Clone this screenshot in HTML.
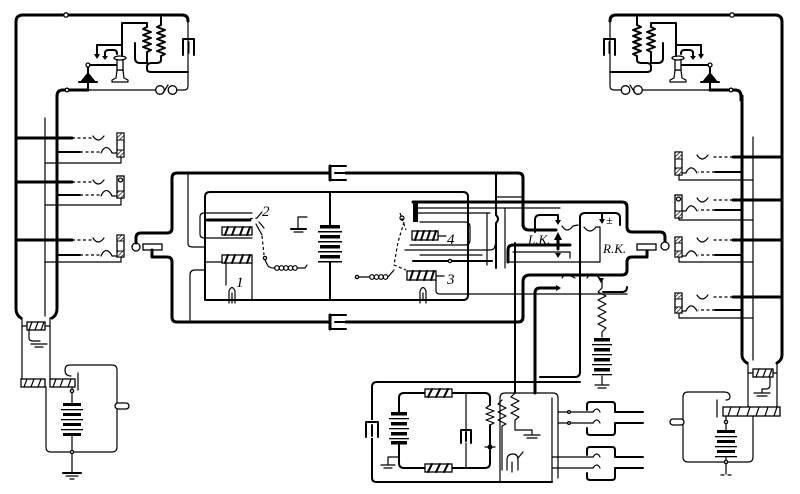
<!DOCTYPE html>
<html><head><meta charset="utf-8"><style>
html,body{margin:0;padding:0;background:#fff}
svg{display:block}
.k{stroke:#000;stroke-width:3;fill:none;stroke-linecap:round;stroke-linejoin:round}
.m{stroke:#000;stroke-width:2;fill:none;stroke-linecap:round;stroke-linejoin:round}
.t{stroke:#000;stroke-width:1.2;fill:none;stroke-linecap:round;stroke-linejoin:round}
.d{stroke:#000;stroke-width:1.2;fill:none;stroke-dasharray:3 2.5}
.w{fill:#fff;stroke:#000;stroke-width:1.3}
.b{fill:#000;stroke:none}
text{font-family:"Liberation Serif",serif;font-style:italic;fill:#000}
</style></head><body>
<svg width="800" height="494" viewBox="0 0 800 494" xmlns="http://www.w3.org/2000/svg">
<defs>
<pattern id="h" width="3" height="3" patternUnits="userSpaceOnUse" patternTransform="rotate(45)"><rect width="3" height="3" fill="#fff"/><line x1="0" y1="0" x2="0" y2="3" stroke="#000" stroke-width="1.4"/></pattern>
<g id="tel">
<path class="k" d="M16,100 L16,22 Q16,15 23,15 L182,15 Q188,15 188,21"/>
<path class="t" d="M188,21 L188,86 Q188,90 184,90 L177,90"/>
<circle cx="66" cy="15" r="2.2" class="w"/>
<path class="t" d="M155.7,90 L88,90"/>
<circle cx="160" cy="90" r="4.3" class="w"/>
<circle cx="172.5" cy="90" r="4.3" class="w"/>
<path class="t" d="M163,93 L168,85"/>
<path class="k" d="M88,90 L63,90 Q57,90 57,96 L57,100"/>
<circle cx="67" cy="90" r="1.8" class="w"/>
<path class="m" d="M88,66 L88,90"/>
<polygon points="80,82 96,82 88,72" class="b"/>
<path class="m" d="M79,82 L97,82"/>
<circle cx="88" cy="65" r="2" class="w"/>
<path class="m" d="M90,65 L118,65"/>
<path class="t" d="M117,70 L116,78 L112,80 L112,82 L128,82 L128,80 L124,78 L123,70 Z" fill="#fff"/>
<rect x="117" y="58" width="6" height="12" class="w"/>
<ellipse cx="120" cy="58" rx="6" ry="2" class="w"/>
<path class="m" d="M122,56 L122,23 L147,23 L147,27"/>
<path class="m" d="M97,45 L122,45"/>
<path class="m" d="M97,45 L97,55"/><polygon points="94,54 100,54 97,59" class="b"/>
<path class="m" d="M105,57 L105,53 Q105,50 109,50 L114,50 Q117,50 117,54"/><polygon points="102,56 108,56 105,60" class="b"/>
<polyline class="m" points="147,27 143,29 151,32 143,35 151,38 143,41 151,44 143,47 151,50 147,52 147,55"/>
<path class="m" d="M161,15 L161,25"/>
<polyline class="m" points="161,25 157,27 165,30 157,33 165,36 157,39 165,42 157,45 165,48 157,51 165,54 161,56 161,57"/>
<path class="m" d="M135,43 L135,58 Q135,63 140,63 L147,63 L147,55"/>
<path class="m" d="M161,57 L161,60 Q161,63 156,63 L151,63 Q147,63 147,67 L147,69 Q147,72 151,72 L188,72"/>
<path class="m" d="M183,55 L183,39 L194,39 L194,55 M188.5,42 L188.5,53"/>
</g>
</defs>

<!-- telephones -->
<use href="#tel"/>
<use href="#tel" transform="translate(798,0) scale(-1,1)"/>

<!-- LEFT STATION verticals -->
<path class="k" d="M16,100 L16,309 Q16,315 21,318"/>
<path class="k" d="M57,100 L57,309 Q57,315 52,318"/>
<path class="t" d="M45,118 L45,316"/>
<path class="t" d="M22,318 L22,380 M50,318 L50,380"/>
<rect x="27" y="322" width="18" height="8" class="w"/>
<path class="t" d="M32,322 L29,330 M38,322 L35,330 M44,322 L41,330"/>
<path class="t" d="M22,326 L27,326 M45,326 L50,326"/>
<path class="t" d="M29,330 L29,338 Q29,341 33,341 L40,341"/>
<path class="t" d="M31,344 L47,344 M35,347 L43,347"/>
<!-- lower coils -->
<rect x="21" y="379" width="24" height="8" class="w"/>
<path class="t" d="M27,379 L24,387 M34,379 L31,387 M41,379 L38,387"/>
<rect x="50" y="379" width="25" height="8" class="w"/>
<path class="t" d="M56,379 L53,387 M63,379 L60,387 M71,379 L68,387"/>
<path class="t" d="M78,373 L78,390"/>
<path class="t" d="M46,387 L46,447 Q46,452 51,452 L112,452 Q117,452 117,447 L117,370 Q117,365 112,365 L70,365 Q65,365 65,370 Q65,376 71,376"/>
<path class="t" d="M72,387 L72,403"/>
<circle cx="72" cy="391" r="1.6" class="w"/>
<g class="b">
<rect x="63" y="403" width="18" height="3"/><rect x="61" y="409" width="22" height="1.3"/>
<rect x="63" y="413" width="18" height="3"/><rect x="61" y="419" width="22" height="1.3"/>
<rect x="63" y="423" width="18" height="3"/><rect x="61" y="429" width="22" height="1.3"/>
<rect x="63" y="433" width="18" height="3"/>
</g>
<path class="t" d="M72,436 L72,472"/>
<circle cx="72" cy="452" r="1.6" class="w"/>
<path class="m" d="M63,473 L81,473"/><path class="t" d="M66,476 L78,476 M70,479 L74,479"/>
<rect x="115" y="403" width="14" height="6" rx="3" class="w"/>

<!-- LEFT JACKS -->
<g>
<path class="k" d="M16,138 L72,138"/><path class="d" d="M72,138 L92,138"/>
<path class="t" d="M93,136 Q98,144 104,136"/>
<path class="m" d="M57,152 L80,152"/><path class="d" d="M80,152 L100,152"/>
<path class="t" d="M101,153 Q104,146 108,148 Q111,150 112,153 L117,153"/>
<path class="t" d="M45,163 L121,163 L121,157"/>
<rect x="117" y="133" width="7" height="24" class="w"/>
<rect x="117" y="133" width="7" height="7" fill="url(#h)" stroke="#000" stroke-width="1"/>
<rect x="117" y="150" width="7" height="7" fill="url(#h)" stroke="#000" stroke-width="1"/>

<path class="k" d="M16,182 L72,182"/><path class="d" d="M72,182 L92,182"/>
<path class="t" d="M93,180 Q98,188 104,180"/>
<path class="m" d="M57,195 L80,195"/><path class="d" d="M80,195 L100,195"/>
<path class="t" d="M101,196 Q104,189 108,191 Q111,193 112,196 L117,196"/>
<path class="t" d="M45,205 L121,205 L121,198"/>
<rect x="117" y="176" width="7" height="22" class="w"/>
<circle cx="120.5" cy="180" r="2" class="w"/>
<rect x="117" y="191" width="7" height="7" fill="url(#h)" stroke="#000" stroke-width="1"/>

<path class="k" d="M16,240 L72,240"/><path class="d" d="M72,240 L92,240"/>
<path class="t" d="M93,238 Q98,246 104,238"/>
<path class="m" d="M57,255 L80,255"/><path class="d" d="M80,255 L100,255"/>
<path class="t" d="M101,256 Q104,249 108,251 Q111,253 112,256 L117,256"/>
<path class="t" d="M45,262 L121,262 L121,257"/>
<rect x="117" y="235" width="7" height="22" class="w"/>
<rect x="117" y="235" width="7" height="6" fill="url(#h)" stroke="#000" stroke-width="1"/>
<rect x="117" y="251" width="7" height="6" fill="url(#h)" stroke="#000" stroke-width="1"/>
</g>

<!-- RIGHT STATION verticals -->
<path class="k" d="M742,96 L742,355 Q742,360 747,363"/>
<path class="t" d="M753,137 L753,360"/>
<path class="k" d="M782,100 L782,355 Q782,360 777,363"/>
<path class="t" d="M748,363 L748,408 M777,363 L777,408"/>
<rect x="753" y="369" width="20" height="8" class="w"/>
<path class="t" d="M759,369 L756,377 M766,369 L763,377 M772,369 L769,377"/>
<path class="t" d="M748,373 L753,373 M773,373 L777,373"/>
<path class="t" d="M770,377 L770,385 Q770,389 766,389 L762,389 L762,392"/>
<path class="t" d="M754,393 L770,393 M757,396 L767,396"/>
<rect x="723" y="407" width="57" height="9" class="w"/>
<path class="t" d="M731,407 L728,416 M740,407 L737,416 M750,407 L747,416 M759,407 L756,416 M768,407 L765,416 M777,407 L774,416"/>
<path class="t" d="M717,400 L717,417"/>
<path class="t" d="M753,416 L753,457 Q753,462 748,462 L688,462 Q683,462 683,457 L683,397 Q683,392 688,392 L724,392 Q730,392 730,397 Q730,400 726,400"/>
<path class="t" d="M726,416 L726,430"/>
<circle cx="726" cy="422" r="1.6" class="w"/>
<g class="b">
<rect x="717" y="430" width="18" height="3"/><rect x="715" y="436" width="22" height="1.3"/>
<rect x="717" y="440" width="18" height="3"/><rect x="715" y="446" width="22" height="1.3"/>
<rect x="717" y="450" width="18" height="3"/><rect x="715" y="456" width="22" height="1.3"/>
</g>
<path class="t" d="M726,457 L726,474"/>
<circle cx="726" cy="462" r="1.6" class="w"/>
<path class="t" d="M721,475 L724,475 M728,475 L731,475"/>
<rect x="670" y="419" width="14" height="6" rx="3" class="w"/>

<!-- RIGHT JACKS -->
<g>
<path class="k" d="M782,157 L733,157"/><path class="d" d="M733,157 L712,157"/>
<path class="t" d="M697,155 Q702,163 708,155"/>
<path class="m" d="M742,172 L715,172"/><path class="d" d="M715,172 L698,172"/>
<path class="t" d="M697,173 Q694,167 690,168 Q687,170 686,173 L682,173"/>
<path class="t" d="M753,180 L679,180 L679,175"/>
<rect x="675" y="152" width="7" height="23" class="w"/>
<rect x="675" y="152" width="7" height="7" fill="url(#h)" stroke="#000" stroke-width="1"/>
<rect x="675" y="168" width="7" height="7" fill="url(#h)" stroke="#000" stroke-width="1"/>

<path class="k" d="M782,200 L733,200"/><path class="d" d="M733,200 L712,200"/>
<path class="t" d="M697,198 Q702,206 708,198"/>
<path class="m" d="M742,210 L715,210"/><path class="d" d="M715,210 L698,210"/>
<path class="t" d="M697,211 Q694,205 690,206 Q687,208 686,211 L682,211"/>
<path class="t" d="M753,220 L679,220 L679,218"/>
<rect x="675" y="195" width="7" height="23" class="w"/>
<circle cx="678.5" cy="199" r="2" class="w"/>
<rect x="675" y="211" width="7" height="7" fill="url(#h)" stroke="#000" stroke-width="1"/>

<path class="k" d="M782,240 L733,240"/><path class="d" d="M733,240 L712,240"/>
<path class="t" d="M697,238 Q702,246 708,238"/>
<path class="m" d="M742,255 L715,255"/><path class="d" d="M715,255 L698,255"/>
<path class="t" d="M697,256 Q694,250 690,251 Q687,253 686,256 L682,256"/>
<path class="t" d="M753,262 L679,262 L679,257"/>
<rect x="675" y="237" width="7" height="20" class="w"/>
<rect x="675" y="237" width="7" height="6" fill="url(#h)" stroke="#000" stroke-width="1"/>
<rect x="675" y="251" width="7" height="6" fill="url(#h)" stroke="#000" stroke-width="1"/>

<path class="k" d="M782,297 L733,297"/><path class="d" d="M733,297 L712,297"/>
<path class="t" d="M697,295 Q702,303 708,295"/>
<path class="m" d="M742,310 L715,310"/><path class="d" d="M715,310 L698,310"/>
<path class="t" d="M697,311 Q694,305 690,306 Q687,308 686,311 L682,311"/>
<path class="t" d="M753,318 L679,318 L679,313"/>
<rect x="675" y="293" width="7" height="20" class="w"/>
<rect x="675" y="293" width="7" height="6" fill="url(#h)" stroke="#000" stroke-width="1"/>
<rect x="675" y="307" width="7" height="6" fill="url(#h)" stroke="#000" stroke-width="1"/>
</g>

<!-- CENTRAL OUTER -->
<circle cx="136" cy="247" r="4" class="w"/>
<path class="k" d="M136,243 L136,238 Q136,233 141,233 L167,233 Q172,233 172,228 L172,178 Q172,173 177,173 L330,173"/>
<path class="k" d="M346,173 L518,173 Q523,173 523,178 L523,224 Q523,230 529,230 L556,230"/>
<path class="k" d="M330,166 L330,180"/><path class="m" d="M330,166 L346,166 M330,180 L346,180 M335,173 L347,173"/>
<rect x="143" y="244" width="19" height="6" class="w"/>
<path class="k" d="M152,250 L152,257 L167,257 Q172,257 172,262 L172,317 Q172,322 177,322 L330,322"/>
<path class="k" d="M346,322 L518,322 Q523,322 523,317 L523,282 Q523,275 530,275 L622,275 Q627,275 627,270 L627,262 Q627,257 632,257 L647,257 L647,250"/>
<path class="k" d="M330,315 L330,329"/><path class="m" d="M330,315 L346,315 M330,329 L346,329 M335,322 L347,322"/>
<path class="k" d="M413,202 L622,202 Q627,202 627,207 L627,227 Q627,232 632,232 L660,232 Q665,232 665,237 L665,242"/>
<rect x="637" y="244" width="19" height="6" class="w"/>
<circle cx="665" cy="246" r="4" class="w"/>

<!-- inner thin frames -->
<path class="t" d="M188,173 L188,243 Q188,247 192,247 L205,247"/>
<path class="t" d="M190,322 L190,275 Q190,270 195,270 L205,270"/>
<path class="m" d="M205,300 L205,197 Q205,192 210,192 L463,192 Q468,192 468,197 L468,295 Q468,300 463,300 Z"/>
<path class="m" d="M330,192 L330,225 M330,262 L330,300"/>

<!-- relay 2 & 1 -->
<path class="t" d="M252,213 L204,213 Q200,213 200,217 L200,234 Q200,238 204,238 L252,238"/>
<path class="k" d="M207,220 L250,220"/>
<rect x="222" y="227" width="30" height="8" class="w"/>
<path class="m" d="M228,227 L225,235 M235,227 L232,235 M243,227 L240,235 M250,227 L247,235"/>
<rect x="222" y="255" width="30" height="8" class="w"/>
<path class="m" d="M228,255 L225,263 M235,255 L232,263 M243,255 L240,263 M250,255 L247,263"/>
<path class="t" d="M205,262 L222,262 M252,263 L252,300 M226,263 L226,285"/>
<path class="t" d="M229,303 L229,291 Q232,284 235,291 L235,303 M232,293 L232,303"/>
<path class="d" d="M228,221 L257,218"/>
<path class="t" d="M257,218 L262,212 M256,224 L262,235 M259,222 L264,228"/>
<path class="d" d="M262,236 L264,255"/>
<circle cx="265" cy="258" r="1.6" class="w"/>
<path class="t" d="M265,260 L268,266 Q270,268 274,268"/>
<g class="t"><circle cx="277" cy="268" r="2.3"/><circle cx="281.5" cy="268" r="2.3"/><circle cx="286" cy="268" r="2.3"/><circle cx="290.5" cy="268" r="2.3"/><circle cx="295" cy="268" r="2.3"/></g>
<path class="t" d="M297,268 L305,268 L307,265"/>
<text x="262" y="216" font-size="15">2</text>
<text x="236" y="287" font-size="15">1</text>
<path class="t" d="M307,217 L298,217 L298,228"/>
<path class="m" d="M291,229 L306,229"/><path class="t" d="M294,232 L303,232"/>
<g class="b">
<rect x="320" y="225" width="20" height="3.5"/><rect x="318" y="231" width="24" height="1.5"/>
<rect x="320" y="235" width="20" height="3.5"/><rect x="318" y="241" width="24" height="1.5"/>
<rect x="320" y="245" width="20" height="3.5"/><rect x="318" y="251" width="24" height="1.5"/>
<rect x="320" y="255" width="20" height="3.5"/><rect x="318" y="261" width="24" height="1.5"/>
</g>

<!-- relay 4 & 3 -->
<rect x="413" y="202" width="5" height="20" class="b"/>
<path class="t" d="M418,208 L560,208 M418,213 L490,213"/>
<path class="t" d="M410,245 L465,245 Q470,245 470,240 L470,227 Q470,222 465,222 L420,222"/>
<rect x="412" y="231" width="26" height="9" class="w"/>
<path class="m" d="M418,231 L415,240 M424,231 L421,240 M430,231 L427,240 M436,231 L433,240"/>
<path class="t" d="M438,236 L446,236"/>
<text x="447" y="244" font-size="15">4</text>
<rect x="407" y="271" width="29" height="9" class="w"/>
<path class="m" d="M413,271 L410,280 M420,271 L417,280 M427,271 L424,280 M434,271 L431,280"/>
<path class="t" d="M436,276 L444,276"/>
<text x="447" y="284" font-size="15">3</text>
<path class="t" d="M436,280 L436,291 Q436,294 440,294 L627,294"/>
<path class="t" d="M420,303 L420,291 Q423,284 426,291 L426,303 M423,293 L423,300"/>
<path class="t" d="M405,250 L490,250 Q495,250 495,245 M420,255 L482,255"/>
<path class="m" d="M413,261 L492,261"/>
<circle cx="450" cy="261" r="1.6" class="w"/>
<path class="d" d="M404,222 L398,242 L394,265 L406,270"/>
<path class="d" d="M400,213 L406,230"/>
<circle cx="402" cy="218" r="2" class="t"/>
<path class="t" d="M357,277 L369,277"/>
<circle cx="357" cy="277" r="1.6" class="w"/>
<g class="t"><circle cx="372" cy="277" r="2.3"/><circle cx="376.5" cy="277" r="2.3"/><circle cx="381" cy="277" r="2.3"/><circle cx="385.5" cy="277" r="2.3"/></g>
<path class="t" d="M388,277 L394,270"/>

<!-- LK / RK -->
<path class="m" d="M496,173 L496,215 Q500,219 496,223 L496,268"/>
<path class="t" d="M496,197 L523,197"/>
<path class="t" d="M487,213 L487,265 M505,208 L505,268"/>
<path class="m" d="M515,243 L515,393"/>
<path class="m" d="M535,232 L535,220 Q535,215 540,215 L558,215 L558,221"/>
<polygon points="555,220 561,220 558,225" class="b"/>
<path class="t" d="M562,226 Q567,234 573,226 L578,225"/>
<path class="k" d="M558,249 L558,238"/><polygon points="554,240 562,240 558,232" class="b"/>
<text x="528" y="244" font-size="13">L.K.</text>
<path class="k" d="M508,262 L508,250 Q508,245 513,245 L570,245"/>
<path class="t" d="M513,252 L570,252 L570,258"/>
<polygon points="555,253 561,253 558,258" class="b"/>
<path class="t" d="M508,262 L600,262"/>
<path class="m" d="M580,262 L580,218 Q580,213 585,213 L615,213 Q620,213 620,218 L620,225"/>
<path class="t" d="M584,227 Q590,235 596,227 L600,227 L600,262"/>
<path class="m" d="M602,213 L602,221"/><polygon points="599,219 605,219 602,224" class="b"/>
<text x="606" y="224" font-size="12" font-style="normal">±</text>
<text x="603" y="253" font-size="13">R.K.</text>
<path class="t" d="M562,278 Q566,271 571,276 L575,278 M587,278 Q591,271 597,276 L602,280"/>
<polygon points="598,278 604,278 601,283" class="b"/>
<path class="m" d="M603,292 L622,292 Q627,292 627,287"/>
<path class="k" d="M535,393 L535,293 Q535,288 540,288 L558,288"/>
<polygon points="556,285 561,288 556,291" class="b"/>
<path class="m" d="M580,262 L580,372 Q580,377 575,377 L540,377"/>
<path class="t" d="M602,280 L602,288"/>
<polyline class="t" points="602,288 598,292 606,296 598,300 606,304 598,308 606,312 598,316 606,320 598,324 606,328 602,332 602,337"/>
<g class="b">
<rect x="594" y="338" width="16" height="3.5"/><rect x="592" y="344" width="20" height="1.3"/>
<rect x="594" y="348" width="16" height="3.5"/><rect x="592" y="354" width="20" height="1.3"/>
<rect x="594" y="358" width="16" height="3.5"/><rect x="592" y="364" width="20" height="1.3"/>
<rect x="594" y="368" width="16" height="3.5"/><rect x="592" y="374" width="20" height="1.3"/>
</g>
<path class="t" d="M602,376 L602,384 M595,385 L609,385 M598,388 L606,388"/>

<!-- BOTTOM BOX -->
<path class="m" d="M372,478 L372,387 Q372,382 377,382 L580,382"/>
<path class="m" d="M372,478 Q372,482 377,482 L552,482"/>
<rect x="365" y="420" width="14" height="18" fill="#fff" stroke="none"/>
<path class="m" d="M366,437 L366,422 L378,422 L378,437 M372,425 L372,436"/>
<path class="m" d="M399,412 L399,398 Q399,393 404,393 L425,393 M452,393 L485,393 Q490,393 490,398 L490,405 M490,425 L490,463 Q490,468 485,468 L452,468 M425,468 L404,468 Q399,468 399,463 L399,445"/>
<rect x="425" y="389" width="27" height="8" class="w"/>
<path class="m" d="M432,389 L428,397 M440,389 L436,397 M448,389 L444,397"/>
<rect x="425" y="464" width="27" height="8" class="w"/>
<path class="m" d="M432,464 L428,472 M440,464 L436,472 M448,464 L444,472"/>
<g class="b">
<rect x="391" y="412" width="16" height="3.5"/><rect x="389" y="418" width="20" height="1.3"/>
<rect x="391" y="422" width="16" height="3.5"/><rect x="389" y="428" width="20" height="1.3"/>
<rect x="391" y="432" width="16" height="3.5"/><rect x="389" y="438" width="20" height="1.3"/>
<rect x="391" y="441" width="16" height="3.5"/>
</g>
<path class="t" d="M399,457 L388,457 L388,464 M381,465 L395,465 M384,468 L392,468"/>
<path class="t" d="M466,393 L466,430 M466,443 L466,468"/>
<path class="m" d="M461,443 L461,430 L471,430 L471,443 M466,432 L466,441"/>
<polyline class="t" points="490,405 486,408 494,411 486,414 494,417 486,420 494,423 490,425"/>
<circle cx="490" cy="447" r="2.5" class="b"/><path class="t" d="M485,447 L495,447"/>
<path class="t" d="M500,482 L500,398 Q500,393 505,393 L553,393 Q558,393 558,398 L558,478"/>
<polyline class="t" points="502,400 498,404 506,408 498,412 506,416 498,420 506,424 502,426 502,470"/>
<polyline class="t" points="515,393 511,397 519,401 511,405 519,409 511,413 519,417 515,420 515,430 532,430 532,434"/>
<path class="t" d="M524,435 L540,435 M527,438 L537,438"/>
<path class="t" d="M535,382 L535,393"/>
<path class="t" d="M507,470 L507,460 Q507,454 513,454 Q518,454 518,460 L518,470 M512,472 L512,462 M518,458 L523,452"/>
<path class="t" d="M552,398 L552,482"/>
<!-- bottom right jacks -->
<path class="t" d="M558,412 L593,412 M558,423 L593,423 M552,457 L593,457 M552,468 L593,468"/>
<circle cx="569" cy="412" r="1.4" class="w"/><circle cx="569" cy="423" r="1.4" class="w"/>
<path class="t" d="M593,412 Q597,406 600,412 M593,423 Q597,417 600,423 M593,457 Q597,451 600,457 M593,468 Q597,462 600,468"/>
<path class="m" d="M587,410 L587,405 Q587,402 590,402 L612,402 Q615,402 615,405 L615,412 L643,412"/>
<path class="m" d="M615,423 L643,423 M615,423 L615,432 Q615,435 612,435 L590,435 Q587,435 587,432 L587,428"/>
<path class="m" d="M587,455 L587,450 Q587,447 590,447 L612,447 Q615,447 615,450 L615,457 L643,457"/>
<path class="m" d="M615,468 L643,468 M615,468 L615,477 Q615,480 612,480 L590,480 Q587,480 587,477 L587,473"/>
</svg>
</body></html>
